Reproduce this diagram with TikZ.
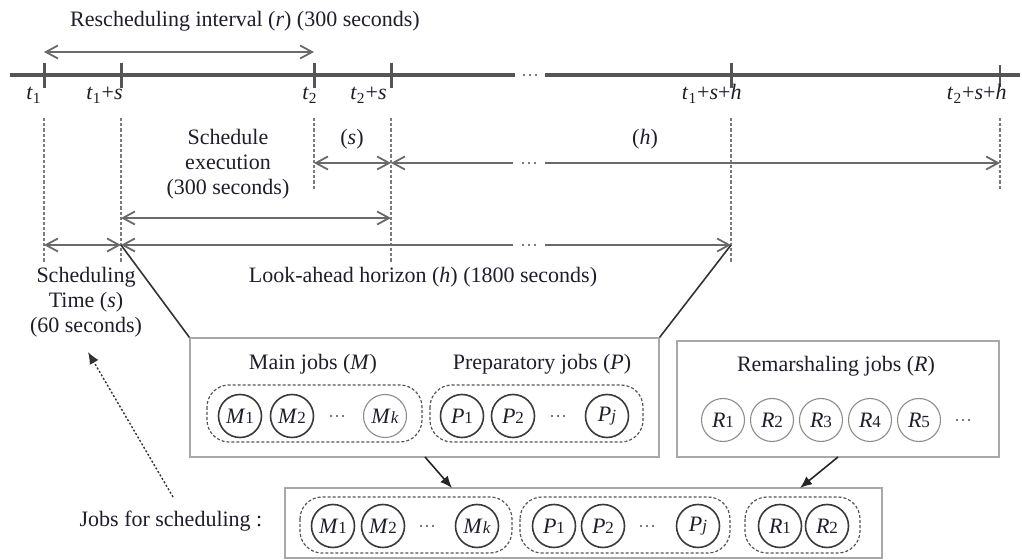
\documentclass[tikz,border=0pt]{standalone}
\usepackage{fontspec}
\setmainfont{Liberation Serif}
\usetikzlibrary{arrows.meta,fit}

\definecolor{ink}{HTML}{1E1E2A}
\definecolor{axisgray}{HTML}{555555}
\definecolor{dimgray}{HTML}{6A6A6A}
\definecolor{guidegray}{HTML}{7A7A7A}
\definecolor{framegray}{HTML}{A8A8A8}
\definecolor{ringdark}{HTML}{3A3A3A}
\definecolor{ringlight}{HTML}{8C8C8C}

\newcommand\tv[1]{\textit{t}\textsubscript{#1}}
\newcommand\job[2]{\textit{#1}{\fontsize{8.5}{9}\selectfont #2}}
\newcommand\jobi[2]{\textit{#1}{\fontsize{8.5}{9}\selectfont\textit{#2}}}

\tikzset{
  txt/.style={font=\fontsize{11}{12.5}\selectfont, text=ink, inner sep=0pt},
  axisline/.style={draw=axisgray, line width=2pt},
  tickmark/.style={draw=axisgray, line width=1.5pt},
  guideline/.style={draw=guidegray, line width=0.7pt, dash pattern=on 1.6pt off 1pt},
  barb/.tip={Straight Barb[length=6pt,width=6.5pt,line width=0.9pt]},
  dimboth/.style={draw=dimgray, line width=1pt, barb-barb},
  dimleft/.style={draw=dimgray, line width=1pt, barb-},
  dimright/.style={draw=dimgray, line width=1pt, -barb},
  funnel/.style={draw=black!80, line width=0.8pt},
  framebox/.style={draw=framegray, line width=0.6pt, inner sep=0pt},
  group/.style={draw=axisgray, line width=0.6pt, dash pattern=on 1.5pt off 1pt, rounded corners=11pt},
  ring/.style={circle, draw=ringdark, line width=0.8pt, minimum size=21.5pt, inner sep=0pt,
    font=\fontsize{11}{11}\selectfont, text=ink},
  ringl/.style={ring, draw=ringlight, line width=0.55pt},
  flow/.style={draw=black!85, line width=0.8pt, -{Latex[length=6pt,width=5pt]}},
  hint/.style={draw=black!80, line width=0.7pt, dash pattern=on 1pt off 1pt, -{Latex[length=6pt,width=5pt]}},
  ellip/.pic={\foreach \d in {-6,0,6} \fill[ink!80] (\d,0) circle (0.6pt);}
}

\begin{document}
\begin{tikzpicture}[x=0.5pt,y=-0.5pt]
\useasboundingbox (0,0) rectangle (1022,560);

% ---------- time axis ----------
\coordinate (ax0) at (10,75);
\coordinate (axg1) at (515,75);
\coordinate (axg2) at (545,75);
\coordinate (ax1) at (1020,75);
\draw[axisline] (ax0) -- (axg1);
\draw[axisline] (axg2) -- (ax1);
\pic at (530,75) {ellip};

\foreach \n/\x in {t1/44, t1s/121, t2/314, t2s/391, t1sh/731}{
  \coordinate (\n) at (\x,75);
  \draw[tickmark] (\x,63) -- (\x,88);
}
\coordinate (t2sh) at (1000,75);
\draw[tickmark, line width=1pt] (1000,65) -- (1000,87);

\node[txt, anchor=base east] (lt1)   at (42,100)   {\tv{1}};
\node[txt, anchor=base east] (lt1s)  at (123,100)  {\tv{1}+\textit{s}};
\node[txt, anchor=base east] (lt2)   at (318,100)  {\tv{2}};
\node[txt, anchor=base east] (lt2s)  at (387,100)  {\tv{2}+\textit{s}};
\node[txt, anchor=base east] (lt1sh) at (742,100)  {\tv{1}+\textit{s}+\textit{h}};
\node[txt, anchor=base east] (lt2sh) at (1007,100) {\tv{2}+\textit{s}+\textit{h}};

% ---------- rescheduling interval ----------
\node[txt, anchor=base] (rlab) at (245,27) {Rescheduling interval (\textit{r}) (300 seconds)};
\coordinate (r0) at (44,52);
\coordinate (r1) at (314,52);
\draw[dimboth] (r0) -- (r1);

% ---------- dashed guides ----------
\foreach \x/\yb in {44/262, 121/262, 314/190, 391/262, 731/262, 1000/190}
  \draw[guideline] (\x,118) -- (\x,\yb);

% ---------- scheduling time s (second cycle) ----------
\node[txt, anchor=base] (slab) at (352,145) {(\textit{s})};
\coordinate (s0) at (314,163);
\coordinate (s1) at (391,163);
\draw[dimboth] (s0) -- (s1);

% ---------- horizon h (second cycle) ----------
\node[txt, anchor=base] (hlab) at (645,145) {(\textit{h})};
\coordinate (h0) at (391,163);
\coordinate (hg1) at (513,163);
\coordinate (hg2) at (545,163);
\coordinate (h1) at (1000,163);
\draw[dimleft] (h0) -- (hg1);
\pic at (529,163) {ellip};
\draw[dimright] (hg2) -- (h1);

% ---------- schedule execution ----------
\node[txt, align=center, anchor=north] (elab) at (228,129)
  {Schedule\\execution\\(300 seconds)};
\coordinate (e0) at (121,218);
\coordinate (e1) at (391,218);
\draw[dimboth] (e0) -- (e1);

% ---------- scheduling time and look-ahead horizon ----------
\coordinate (st0) at (44,245);
\coordinate (st1) at (121,245);
\draw[dimboth] (st0) -- (st1);
\coordinate (la1) at (731,245);
\coordinate (lag1) at (513,245);
\coordinate (lag2) at (545,245);
\draw[dimleft] (st1) -- (lag1);
\pic at (529,245) {ellip};
\draw[dimright] (lag2) -- (la1);

\node[txt, align=center, anchor=north] (stlab) at (86,267)
  {Scheduling\\Time (\textit{s})\\(60 seconds)};
\node[txt, anchor=base] (lalab) at (423,283)
  {Look-ahead horizon (\textit{h}) (1800 seconds)};

% ---------- job pools ----------
\node[framebox, fit={(190,338) (659,457)}] (pool) {};
\node[framebox, fit={(677,341) (999,457)}] (remar) {};
\draw[funnel] (st1) -- (pool.north west);
\draw[funnel] (la1) -- (pool.north east);

\node[txt, anchor=base] (mlab) at (313,370) {Main jobs (\textit{M})};
\node[txt, anchor=base] (plab) at (542,370) {Preparatory jobs (\textit{P})};
\node[txt, anchor=base] (rjlab) at (836,372) {Remarshaling jobs (\textit{R})};

\draw[group] (207,385) rectangle (422,442);
\draw[group] (430,385) rectangle (643,442);

\node[ring]  (pm1) at (240,416) {\job{M}{1}};
\node[ring]  (pm2) at (292,416) {\job{M}{2}};
\pic at (337,416) {ellip};
\node[ringl] (pmk) at (385,416) {\jobi{M}{k}};
\node[ring]  (pp1) at (462,416) {\job{P}{1}};
\node[ring]  (pp2) at (513,416) {\job{P}{2}};
\pic at (558,416) {ellip};
\node[ring]  (ppj) at (607,416) {\jobi{P}{j}};

\node[ringl] (rr1) at (723,420) {\job{R}{1}};
\node[ringl] (rr2) at (772,420) {\job{R}{2}};
\node[ringl] (rr3) at (821,420) {\job{R}{3}};
\node[ringl] (rr4) at (870,420) {\job{R}{4}};
\node[ringl] (rr5) at (919,420) {\job{R}{5}};
\pic at (963,420) {ellip};

% ---------- jobs for scheduling ----------
\node[framebox, fit={(285,488) (882,558)}] (sched) {};
\node[txt, anchor=base] (jlab) at (171,527) {Jobs for scheduling :};

\draw[group] (300,497) rectangle (512,553);
\draw[group] (520,497) rectangle (730,553);
\draw[group] (745,497) rectangle (860,553);

\node[ring] (sm1) at (333,526) {\job{M}{1}};
\node[ring] (sm2) at (383,526) {\job{M}{2}};
\pic at (427,526) {ellip};
\node[ring] (smk) at (477,526) {\jobi{M}{k}};
\node[ring] (sp1) at (554,526) {\job{P}{1}};
\node[ring] (sp2) at (603,526) {\job{P}{2}};
\pic at (647,526) {ellip};
\node[ring] (spj) at (698,526) {\jobi{P}{j}};
\node[ring] (sr1) at (780,526) {\job{R}{1}};
\node[ring] (sr2) at (827,526) {\job{R}{2}};

% ---------- flows ----------
\coordinate (f1a) at (425,457);
\coordinate (f1b) at (452,488);
\coordinate (f2a) at (838,457);
\coordinate (f2b) at (800,488);
\draw[flow] (f1a) -- (f1b);
\draw[flow] (f2a) -- (f2b);

\coordinate (q0) at (173,497);
\coordinate (q1) at (88,352);
\draw[hint] (q0) -- (q1);

\end{tikzpicture}
\end{document}
